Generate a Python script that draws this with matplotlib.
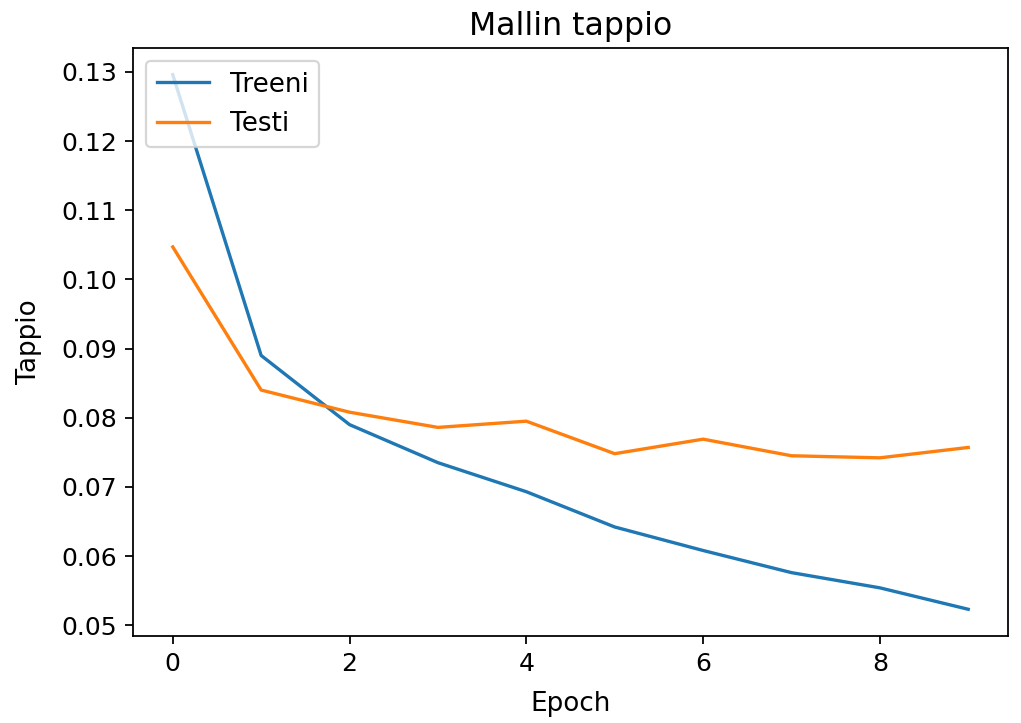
import matplotlib
matplotlib.use("Agg")
import matplotlib.pyplot as plt

epochs = list(range(10))
treeni = [0.1296, 0.0890, 0.0790, 0.0735, 0.0693, 0.0642, 0.0608, 0.0576, 0.0554, 0.0523]
testi = [0.1047, 0.0840, 0.0808, 0.0786, 0.0795, 0.0748, 0.0769, 0.0745, 0.0742, 0.0757]

W, H, DPI = 1021, 723, 160
fig = plt.figure(figsize=(W / DPI, H / DPI), dpi=DPI)
ax = fig.add_axes([133 / W, 1 - 636 / H, (1008 - 133) / W, (636 - 48) / H])
ax.plot(epochs, treeni, label="Treeni")
ax.plot(epochs, testi, label="Testi")
ax.set_title("Mallin tappio", fontsize=14.2)
ax.set_xlabel("Epoch", fontsize=11.8, labelpad=7)
ax.set_ylabel("Tappio", fontsize=11.8, labelpad=9)
ax.tick_params(labelsize=11.3)
ax.legend(loc="upper left", fontsize=11.8)
fig.savefig("out.png", dpi=DPI)
